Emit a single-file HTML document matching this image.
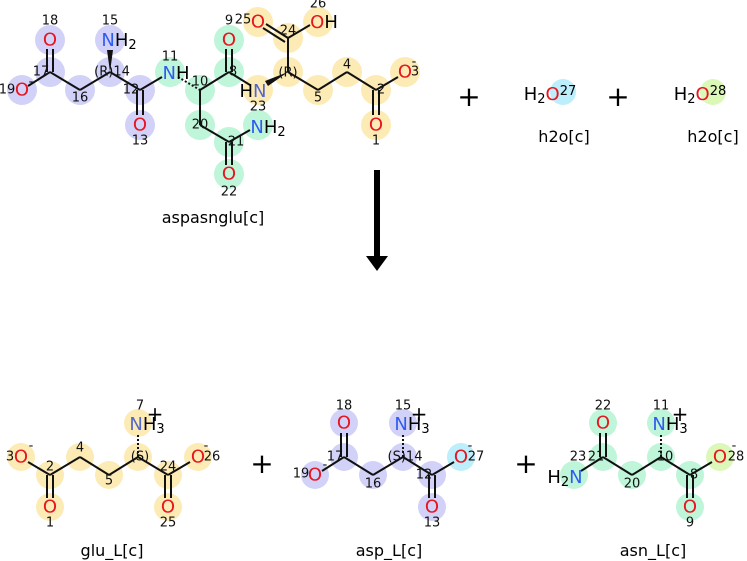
<!DOCTYPE html>
<html><head><style>
html,body{margin:0;padding:0;background:#fff;}
svg{display:block;font-family:"DejaVu Sans","Liberation Sans",sans-serif;}
.a{font-size:18px;text-anchor:middle;dominant-baseline:central;}
.n{font-size:13px;fill:#111;text-anchor:middle;dominant-baseline:central;}
.O{fill:#e8141e;} .N{fill:#2f5cf0;} .H{fill:#000;}
.lab{font-size:16px;text-anchor:middle;fill:#000;}
.p{font-size:28px;text-anchor:middle;fill:#000;}
.q{font-size:20px;text-anchor:middle;fill:#000;}
line{stroke:#111;stroke-width:2;}
.b{fill:#d2d2f8;} .g{fill:#bff5d9;} .y{fill:#fdebb5;} .c{fill:#bdeefb;} .l{fill:#dbf8b8;}
</style></head><body>
<svg width="747" height="561" viewBox="0 0 747 561">
<g>
<circle class="b" cx="50" cy="40" r="15"/><circle class="b" cx="50" cy="72" r="15"/><circle class="b" cx="22" cy="90" r="15"/>
<circle class="b" cx="80" cy="90" r="15"/><circle class="b" cx="110" cy="72" r="15"/><circle class="b" cx="110" cy="40" r="15"/>
<circle class="b" cx="140" cy="90" r="15"/><circle class="b" cx="140" cy="125" r="15"/>
<circle class="g" cx="170" cy="72" r="15"/><circle class="g" cx="200" cy="90" r="15"/><circle class="g" cx="229" cy="72" r="15"/>
<circle class="g" cx="229" cy="40" r="15"/><circle class="g" cx="200" cy="125" r="15"/><circle class="g" cx="229" cy="142" r="15"/>
<circle class="g" cx="229" cy="174" r="15"/><circle class="g" cx="258" cy="125" r="15"/>
<circle class="y" cx="258" cy="90" r="15"/><circle class="y" cx="258" cy="22" r="15"/><circle class="y" cx="288" cy="38" r="15"/>
<circle class="y" cx="318" cy="22" r="15"/><circle class="y" cx="288" cy="72" r="15"/><circle class="y" cx="318" cy="90" r="15"/>
<circle class="y" cx="347" cy="72" r="15"/><circle class="y" cx="376" cy="90" r="15"/><circle class="y" cx="405" cy="72" r="15"/>
<circle class="y" cx="376" cy="125" r="15"/>
</g>
<g>
<line x1="28" y1="86" x2="50" y2="72"/><line x1="47" y1="72" x2="47" y2="49"/><line x1="53" y1="72" x2="53" y2="49"/>
<line x1="50" y1="72" x2="80" y2="90"/><line x1="80" y1="90" x2="110" y2="72"/>
<polygon points="110,72 107,50 113,50" fill="#111"/>
<line x1="110" y1="72" x2="140" y2="90"/><line x1="137" y1="90" x2="137" y2="115"/><line x1="143" y1="90" x2="143" y2="115"/>
<line x1="140" y1="90" x2="162" y2="77"/>
<line x1="178" y1="77" x2="200" y2="90" stroke-dasharray="2,2"/>
<line x1="200" y1="90" x2="229" y2="72"/><line x1="226" y1="72" x2="226" y2="49"/><line x1="232" y1="72" x2="232" y2="49"/>
<line x1="229" y1="72" x2="250" y2="85"/>
<polygon points="288,72 268,86 265,81" fill="#111"/>
<line x1="288" y1="72" x2="288" y2="38"/><line x1="288" y1="38" x2="266" y2="24"/><line x1="285" y1="42" x2="263" y2="28"/>
<line x1="288" y1="38" x2="310" y2="25"/>
<line x1="288" y1="72" x2="318" y2="90"/><line x1="318" y1="90" x2="347" y2="72"/><line x1="347" y1="72" x2="376" y2="90"/>
<line x1="376" y1="90" x2="398" y2="77"/><line x1="373" y1="90" x2="373" y2="115"/><line x1="379" y1="90" x2="379" y2="115"/>
<line x1="200" y1="90" x2="200" y2="125"/><line x1="200" y1="125" x2="229" y2="142"/><line x1="229" y1="142" x2="250" y2="130"/>
<line x1="226" y1="142" x2="226" y2="165"/><line x1="232" y1="142" x2="232" y2="165"/>
</g>
<g>
<text class="a O" x="50" y="40">O</text><text class="n" x="50" y="21">18</text>
<text class="n" x="41" y="72">17</text>
<text class="a O" x="22" y="90">O</text><text class="n" x="7" y="90">19</text><text class="n" x="31" y="82">-</text>
<text class="n" x="80" y="98">16</text>
<text class="n" x="112" y="72" fill="#555">(R)14</text>
<text class="a" x="119" y="40"><tspan class="N">N</tspan><tspan>H</tspan><tspan font-size="13" dy="5">2</tspan></text><text class="n" x="110" y="21">15</text>
<text class="n" x="131" y="90">12</text>
<text class="a O" x="140" y="125">O</text><text class="n" x="140" y="141">13</text>
<text class="a" x="176" y="73"><tspan class="N">N</tspan><tspan>H</tspan></text><text class="n" x="170" y="57">11</text>
<text class="n" x="200" y="82">10</text>
<text class="a O" x="229" y="40">O</text><text class="n" x="229" y="21">9</text>
<text class="n" x="233" y="72">8</text>
<text class="a" x="253" y="91"><tspan>H</tspan><tspan fill="#5566cc">N</tspan></text><text class="n" x="258" y="107">23</text>
<text class="n" x="288" y="73" fill="#555">(R)</text>
<text class="a O" x="258" y="22">O</text><text class="n" x="243" y="20">25</text>
<text class="n" x="288" y="31">24</text>
<text class="a" x="324" y="22"><tspan class="O">O</tspan><tspan>H</tspan></text><text class="n" x="318" y="4">26</text>
<text class="n" x="318" y="98">5</text><text class="n" x="347" y="65">4</text><text class="n" x="381" y="90">2</text>
<text class="a O" x="405" y="72">O</text><text class="n" x="415" y="72">3</text><text class="n" x="414" y="62">-</text>
<text class="a O" x="376" y="125">O</text><text class="n" x="376" y="141">1</text>
<text class="a" x="268" y="127"><tspan class="N">N</tspan><tspan>H</tspan><tspan font-size="13" dy="5">2</tspan></text>
<text class="n" x="200" y="125">20</text><text class="n" x="236" y="142">21</text>
<text class="a O" x="229" y="174">O</text><text class="n" x="229" y="192">22</text>
</g>
<text class="lab" x="213" y="223">aspasnglu[c]</text>
<rect x="374" y="170" width="6" height="88" fill="#000"/>
<polygon points="366,256 388,256 377,271" fill="#000"/>
<text class="p" x="469" y="106">+</text>
<circle class="c" cx="563" cy="92" r="13"/>
<text class="a" x="550" y="94"><tspan>H</tspan><tspan font-size="13" dy="5">2</tspan><tspan class="O" dy="-5">O</tspan><tspan font-size="13" dy="-3">27</tspan></text>
<text class="lab" x="564" y="142">h2o[c]</text>
<text class="p" x="618" y="106">+</text>
<circle class="l" cx="713" cy="92" r="13"/>
<text class="a" x="700" y="94"><tspan>H</tspan><tspan font-size="13" dy="5">2</tspan><tspan class="O" dy="-5">O</tspan><tspan font-size="13" dy="-3">28</tspan></text>
<text class="lab" x="713" y="142">h2o[c]</text>
<g>
<circle class="y" cx="21" cy="457" r="14"/><circle class="y" cx="50" cy="475" r="14"/><circle class="y" cx="50" cy="507" r="14"/>
<circle class="y" cx="80" cy="457" r="14"/><circle class="y" cx="109" cy="475" r="14"/><circle class="y" cx="138" cy="457" r="14"/>
<circle class="y" cx="138" cy="423" r="14"/><circle class="y" cx="168" cy="475" r="14"/><circle class="y" cx="168" cy="507" r="14"/>
<circle class="y" cx="198" cy="457" r="14"/>
<line x1="28" y1="462" x2="50" y2="475"/><line x1="47" y1="475" x2="47" y2="498"/><line x1="53" y1="475" x2="53" y2="498"/>
<line x1="50" y1="475" x2="80" y2="457"/><line x1="80" y1="457" x2="109" y2="475"/><line x1="109" y1="475" x2="138" y2="457"/>
<line x1="138" y1="457" x2="138" y2="433" stroke-dasharray="2,2" stroke-width="4"/>
<line x1="138" y1="457" x2="168" y2="475"/><line x1="168" y1="475" x2="190" y2="462"/>
<line x1="165" y1="475" x2="165" y2="498"/><line x1="171" y1="475" x2="171" y2="498"/>
<text class="a O" x="21" y="457">O</text><text class="n" x="10" y="457">3</text><text class="n" x="31" y="446">-</text>
<text class="n" x="50" y="467">2</text><text class="a O" x="50" y="507">O</text><text class="n" x="50" y="523">1</text>
<text class="n" x="80" y="448">4</text><text class="n" x="109" y="481">5</text><text class="n" x="140" y="457" fill="#555">(S)</text>
<text class="a" x="147" y="424"><tspan fill="#5566cc">N</tspan><tspan>H</tspan><tspan font-size="13" dy="5">3</tspan></text><text class="n" x="140" y="406">7</text>
<text class="q" x="155" y="421">+</text>
<text class="n" x="168" y="467">24</text><text class="a O" x="168" y="507">O</text><text class="n" x="168" y="523">25</text>
<text class="a O" x="198" y="457">O</text><text class="n" x="212" y="457">26</text><text class="n" x="206" y="446">-</text>
</g>
<text class="p" x="262" y="473">+</text>
<text class="lab" x="112" y="556">glu_L[c]</text>
<g>
<circle class="b" cx="344" cy="423" r="14"/><circle class="b" cx="344" cy="457" r="14"/><circle class="b" cx="315" cy="475" r="14"/>
<circle class="b" cx="373" cy="475" r="14"/><circle class="b" cx="403" cy="457" r="14"/><circle class="b" cx="403" cy="423" r="14"/>
<circle class="b" cx="432" cy="475" r="14"/><circle class="b" cx="432" cy="507" r="14"/><circle class="c" cx="461" cy="457" r="14"/>
<line x1="322" y1="471" x2="344" y2="457"/><line x1="341" y1="457" x2="341" y2="433"/><line x1="347" y1="457" x2="347" y2="433"/>
<line x1="344" y1="457" x2="373" y2="475"/><line x1="373" y1="475" x2="403" y2="457"/>
<line x1="403" y1="457" x2="403" y2="433" stroke-dasharray="2,2" stroke-width="4"/>
<line x1="403" y1="457" x2="432" y2="475"/><line x1="432" y1="475" x2="454" y2="462"/>
<line x1="429" y1="475" x2="429" y2="498"/><line x1="435" y1="475" x2="435" y2="498"/>
<text class="a O" x="344" y="423">O</text><text class="n" x="344" y="406">18</text><text class="n" x="335" y="457">17</text>
<text class="a O" x="315" y="475">O</text><text class="n" x="301" y="474">19</text><text class="n" x="325" y="465">-</text>
<text class="n" x="373" y="484">16</text><text class="n" x="405" y="457" fill="#555">(S)14</text>
<text class="a" x="412" y="424"><tspan class="N">N</tspan><tspan>H</tspan><tspan font-size="13" dy="5">3</tspan></text><text class="n" x="403" y="406">15</text>
<text class="q" x="419" y="421">+</text>
<text class="n" x="424" y="475">12</text><text class="a O" x="432" y="507">O</text><text class="n" x="432" y="523">13</text>
<text class="a O" x="461" y="457">O</text><text class="n" x="476" y="457">27</text><text class="n" x="470" y="446">-</text>
</g>
<text class="p" x="526" y="473">+</text>
<text class="lab" x="389" y="556">asp_L[c]</text>
<g>
<circle class="g" cx="603" cy="423" r="14"/><circle class="g" cx="603" cy="457" r="14"/><circle class="g" cx="574" cy="475" r="14"/>
<circle class="g" cx="632" cy="475" r="14"/><circle class="g" cx="661" cy="457" r="14"/><circle class="g" cx="661" cy="423" r="14"/>
<circle class="g" cx="690" cy="475" r="14"/><circle class="g" cx="690" cy="507" r="14"/><circle class="l" cx="720" cy="457" r="14"/>
<line x1="581" y1="471" x2="603" y2="457"/><line x1="600" y1="457" x2="600" y2="433"/><line x1="606" y1="457" x2="606" y2="433"/>
<line x1="603" y1="457" x2="632" y2="475"/><line x1="632" y1="475" x2="661" y2="457"/>
<line x1="661" y1="457" x2="661" y2="433" stroke-dasharray="2,2" stroke-width="4"/>
<line x1="661" y1="457" x2="690" y2="475"/><line x1="690" y1="475" x2="712" y2="462"/>
<line x1="687" y1="475" x2="687" y2="498"/><line x1="693" y1="475" x2="693" y2="498"/>
<text class="a O" x="603" y="423">O</text><text class="n" x="603" y="406">22</text><text class="n" x="596" y="457">21</text>
<text class="a" x="565" y="477"><tspan>H</tspan><tspan font-size="13" dy="5">2</tspan><tspan class="N" dy="-5">N</tspan></text><text class="n" x="578" y="457">23</text>
<text class="n" x="632" y="484">20</text><text class="n" x="665" y="457">10</text>
<text class="a" x="670" y="424"><tspan class="N">N</tspan><tspan>H</tspan><tspan font-size="13" dy="5">3</tspan></text><text class="n" x="661" y="406">11</text>
<text class="q" x="680" y="421">+</text>
<text class="n" x="694" y="475">8</text><text class="a O" x="690" y="507">O</text><text class="n" x="690" y="523">9</text>
<text class="a O" x="720" y="457">O</text><text class="n" x="736" y="457">28</text><text class="n" x="734" y="446">-</text>
</g>
<text class="lab" x="653" y="556">asn_L[c]</text>
</svg>
</body></html>
